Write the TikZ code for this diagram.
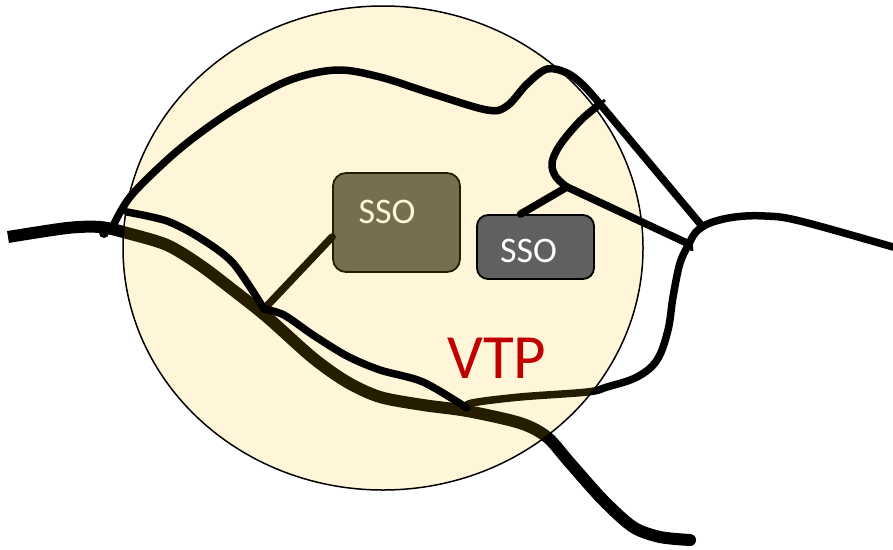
\documentclass[tikz,border=0pt]{standalone}
\usepackage{fontspec}
\setmainfont{Carlito}
\definecolor{boxgray}{HTML}{606060}
\definecolor{gold}{HTML}{FFC000}
\definecolor{vtpred}{HTML}{C00000}
\tikzset{
  mainroad/.style={line width=12pt, black, line join=round},
  road/.style={line width=7.5pt, black, line cap=round, line join=round},
  tick/.style={line width=3pt, black},
  ssobox/.style={draw=black, line width=1.8pt, fill=boxgray, rounded corners=13pt, inner sep=0pt},
  ssotext/.style={text=white, font=\fontsize{36}{40}\selectfont, anchor=base, inner sep=0pt},
}
\begin{document}
\begin{tikzpicture}[x=1pt,y=-1pt]
\useasboundingbox (0,0) rectangle (893,549);
% named junctions
\coordinate (jL) at (112,228);
\coordinate (jB) at (264,309);
\coordinate (jS) at (467,408);
\coordinate (jT) at (600,104);
\coordinate (jK) at (567,187);
\coordinate (jR) at (702,226);
\coordinate (jQ) at (689,244);
% ---- layer under the translucent VTP area ----
\draw[mainroad, line cap=butt] plot[smooth, tension=0.5] coordinates {(8,237) (67,228) (100,227) (127,233) (167,245) (200,265) (233,290) (267,317) (313,358) (347,382) (380,397) (423,405) (467,411) (520,423) (547,437) (570,463) (603,500) (633,527) (660,537) (690,540)};
\fill (690,540) circle (6pt);
\draw[road] plot[smooth, tension=0.6] coordinates {(jQ) (680,263) (673,297) (668,330) (657,360) (637,377) (607,387) (587,392) (520,397) (472,403) (jS)};
\node[ssobox, minimum width=127pt, minimum height=99pt] (bigsso) at (396.5,222.5) {};
\draw[road] (jB) -- ([yshift=-14.5pt]bigsso.west);
\node[ssotext] (bigssotext) at (387,223) {SSO};
% ---- the VTP area ----
\path[fill=gold, fill opacity=0.15] (383,248) ellipse [x radius=260pt, y radius=242pt];
\draw[line width=1.5pt] (383,248) ellipse [x radius=260pt, y radius=242pt];
% ---- roads above ----
\draw[road] plot[smooth, tension=0.55] coordinates {(jL) (130,197) (167,160) (200,133) (240,106) (290,80) (337,70) (380,77) (430,93) (487,110) (507,106) (527,84) (547,69) (567,73) (583,85) (jT)};
\draw[road] (jT) -- (jR);
\draw[road] plot[smooth, tension=0.5] coordinates {(127,212) (167,221) (200,238) (233,263) (jB)};
\draw[road] plot[smooth, tension=0.5] coordinates {(jB) (284,315) (313,335) (347,356) (380,370) (423,382) (jS)};
\draw[road] plot[smooth, tension=0.6] coordinates {(jT) (580,121) (560,145) (552,163) (556,177) (jK)};
\draw[road] (jK) -- (jQ);
\draw[road] plot[smooth, tension=0.6] coordinates {(jQ) (696,232) (710,223) (735,217) (765,216) (800,221) (893,247)};
\fill (104,233) circle (5pt);
\draw[tick] (595,108) -- (605,100);
\draw[tick] (690,237) -- (692,251);
% small SSO
\node[ssobox, rounded corners=11pt, minimum width=117pt, minimum height=64pt] (smallsso) at (535.5,247) {};
\draw[road] (jK) -- ([xshift=-15pt]smallsso.north);
\node[ssotext] (smallssotext) at (528.5,262) {SSO};
% label
\node[text=vtpred, font=\fontsize{63}{70}\selectfont, anchor=base, inner sep=0pt] (vtp) at (497,378) {VTP};
\end{tikzpicture}
\end{document}
